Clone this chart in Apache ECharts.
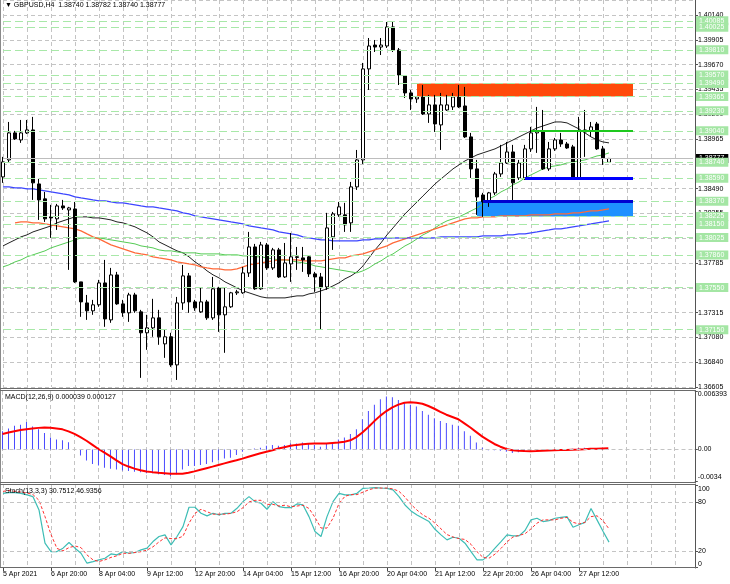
<!DOCTYPE html>
<html>
<head>
<meta charset="utf-8">
<script src="https://cdn.jsdelivr.net/npm/echarts@6.0.0/dist/echarts.min.js"></script>
<style>
html, body { margin: 0; padding: 0; background: #fff; }
#chart { width: 730px; height: 584px; }
</style>
</head>
<body>
<div id="chart"></div>
<script>
// GBPUSD H4, one value per bar (bar 0 = 5 Apr 2021 12:00)
var opens = [
  1.38602,1.38763,1.39020,1.38953,1.39020,1.39048,1.38535,1.38393,1.38222,1.38203,
  1.38326,1.38288,1.38297,1.37604,1.37404,1.37329,1.37386,1.37594,1.37243,1.37670,
  1.37395,1.37310,1.37480,1.37319,1.37120,1.37167,1.37262,1.37015,1.37082,1.36815,
  1.37404,1.37661,1.37414,1.37319,1.37414,1.37262,1.37547,1.37291,1.37367,1.37500,
  1.37500,1.37689,1.37936,1.37538,1.37955,1.37737,1.37908,1.37651,1.37775,1.37842,
  1.37832,1.37842,1.37680,1.37651,1.37556,1.38032,1.38241,1.38241,1.38165,1.38507,
  1.38763,1.39628,1.39855,1.39836,1.39846,1.40027,1.39808,1.39561,1.39400,1.39343,
  1.39362,1.39200,1.39286,1.39096,1.39238,1.39267,1.39362,1.39276,1.38982,1.38678,
  1.38430,1.38364,1.38450,1.38630,1.38734,1.38839,1.38592,1.38592,1.38868,1.39020,
  1.39039,1.38678,1.38868,1.38953,1.38915,1.38887,1.38592,1.39029,1.39039,1.39105,
  1.38868,1.38740
];
var closes = [
  1.38744,1.39020,1.38963,1.39020,1.39048,1.38545,1.38383,1.38203,1.38212,1.38326,
  1.38307,1.38307,1.37604,1.37414,1.37329,1.37386,1.37594,1.37252,1.37670,1.37395,
  1.37310,1.37480,1.37329,1.37120,1.37167,1.37262,1.37082,1.37082,1.36815,1.37404,
  1.37661,1.37414,1.37357,1.37414,1.37262,1.37538,1.37291,1.37367,1.37500,1.37509,
  1.37689,1.37936,1.37538,1.37955,1.37737,1.37908,1.37651,1.37784,1.37842,1.37837,
  1.37813,1.37680,1.37651,1.37556,1.38117,1.38250,1.38317,1.38146,1.38507,1.38763,
  1.39628,1.39846,1.39836,1.39855,1.40027,1.39808,1.39570,1.39400,1.39343,1.39362,
  1.39200,1.39286,1.39105,1.39286,1.39286,1.39362,1.39267,1.38982,1.38678,1.38411,
  1.38364,1.38450,1.38630,1.38734,1.38839,1.38545,1.38734,1.38868,1.39020,1.39039,
  1.38678,1.38868,1.38953,1.38915,1.38877,1.38592,1.39039,1.39048,1.39077,1.38868,
  1.38782,1.38777
];
var lows = [
  1.38545,1.38735,1.38953,1.38925,1.39010,1.38383,1.38193,1.38174,1.38022,1.38098,
  1.38288,1.37718,1.37594,1.37272,1.37243,1.37291,1.37367,1.37177,1.37215,1.37386,
  1.37272,1.37224,1.37310,1.36692,1.36958,1.37082,1.37006,1.36882,1.36796,1.36672,
  1.37338,1.37310,1.37329,1.37310,1.37243,1.37243,1.37129,1.36930,1.37357,1.37480,
  1.37490,1.37651,1.37528,1.37528,1.37718,1.37718,1.37642,1.37642,1.37604,1.37718,
  1.37699,1.37651,1.37509,1.37148,1.37528,1.37908,1.38222,1.38079,1.38079,1.38478,
  1.38725,1.39428,1.39789,1.39760,1.39827,1.39789,1.39475,1.39352,1.39238,1.39305,
  1.39190,1.39115,1.39029,1.38858,1.39229,1.39238,1.39257,1.38972,1.38592,1.38241,
  1.38222,1.38317,1.38430,1.38602,1.38725,1.38355,1.38573,1.38573,1.38839,1.38830,
  1.38668,1.38659,1.38849,1.38887,1.38868,1.38583,1.38592,1.38792,1.38982,1.38858,
  1.38716,1.38740
];
var highs = [
  1.38792,1.39124,1.39039,1.39143,1.39143,1.39172,1.38583,1.38459,1.38336,1.38345,
  1.38383,1.38317,1.38364,1.37604,1.37480,1.37433,1.37623,1.37813,1.37737,1.37699,
  1.37433,1.37500,1.37500,1.37338,1.37291,1.37443,1.37338,1.37148,1.37120,1.37461,
  1.37765,1.37689,1.37433,1.37547,1.37433,1.37651,1.37557,1.37547,1.37509,1.37528,
  1.37746,1.38079,1.37965,1.37984,1.37974,1.37927,1.37927,1.37974,1.38069,1.37936,
  1.37936,1.37851,1.37699,1.37689,1.38260,1.38269,1.38364,1.38355,1.38554,1.38858,
  1.39685,1.39922,1.39903,1.39922,1.40074,1.40074,1.39827,1.39570,1.39428,1.39371,
  1.39475,1.39381,1.39381,1.39400,1.39381,1.39400,1.39475,1.39457,1.39020,1.38763,
  1.38450,1.38459,1.38649,1.38906,1.38934,1.38906,1.38763,1.38906,1.39077,1.39267,
  1.39238,1.38934,1.38972,1.39020,1.38934,1.38906,1.39172,1.39238,1.39124,1.39124,
  1.38896,1.38782
];

// moving averages as drawn on the chart
var maBlack = [
  1.37946,1.37975,1.38003,1.38032,1.38051,1.38079,1.38098,1.38117,1.38136,1.38165,
  1.38184,1.38203,1.38222,1.38222,1.38222,1.38212,1.38212,1.38203,1.38193,1.38174,
  1.38165,1.38146,1.38127,1.38098,1.38070,1.38032,1.37984,1.37956,1.37927,1.37899,
  1.37880,1.37842,1.37794,1.37756,1.37709,1.37671,1.37642,1.37604,1.37576,1.37547,
  1.37519,1.37500,1.37481,1.37462,1.37452,1.37452,1.37452,1.37452,1.37462,1.37471,
  1.37471,1.37490,1.37500,1.37519,1.37538,1.37566,1.37595,1.37633,1.37661,1.37699,
  1.37756,1.37832,1.37908,1.37975,1.38051,1.38117,1.38184,1.38250,1.38307,1.38364,
  1.38421,1.38478,1.38535,1.38583,1.38630,1.38678,1.38716,1.38754,1.38782,1.38811,
  1.38830,1.38849,1.38868,1.38896,1.38925,1.38953,1.38982,1.39010,1.39039,1.39067,
  1.39086,1.39105,1.39124,1.39124,1.39115,1.39086,1.39058,1.39020,1.38982,1.38953,
  1.38934,1.38925
];
var maGreen = [
  1.37747,1.37766,1.37794,1.37813,1.37842,1.37861,1.37880,1.37899,1.37927,1.37946,
  1.37965,1.37984,1.38003,1.38022,1.38022,1.38022,1.38022,1.38013,1.38003,1.37994,
  1.37984,1.37975,1.37965,1.37946,1.37937,1.37927,1.37908,1.37899,1.37899,1.37889,
  1.37880,1.37880,1.37880,1.37870,1.37870,1.37870,1.37870,1.37861,1.37861,1.37861,
  1.37851,1.37851,1.37842,1.37842,1.37832,1.37823,1.37813,1.37813,1.37804,1.37794,
  1.37785,1.37775,1.37756,1.37747,1.37737,1.37728,1.37718,1.37709,1.37699,1.37690,
  1.37709,1.37737,1.37775,1.37804,1.37842,1.37870,1.37908,1.37946,1.37975,1.38013,
  1.38051,1.38079,1.38117,1.38155,1.38184,1.38203,1.38222,1.38250,1.38279,1.38307,
  1.38345,1.38393,1.38421,1.38459,1.38488,1.38526,1.38554,1.38592,1.38621,1.38649,
  1.38678,1.38697,1.38706,1.38716,1.38735,1.38744,1.38754,1.38763,1.38782,1.38801,
  1.38811,1.38830
];
var maOrange = [
  null,null,1.38165,1.38174,1.38174,1.38165,1.38165,1.38155,1.38146,1.38136,
  1.38127,1.38117,1.38108,1.38089,1.38060,1.38032,1.38013,1.37984,1.37956,1.37937,
  1.37918,1.37899,1.37880,1.37870,1.37861,1.37842,1.37832,1.37823,1.37813,1.37794,
  1.37785,1.37775,1.37766,1.37747,1.37737,1.37728,1.37728,1.37718,1.37718,1.37728,
  1.37747,1.37766,1.37775,1.37785,1.37794,1.37804,1.37813,1.37813,1.37813,1.37813,
  1.37804,1.37804,1.37804,1.37804,1.37813,1.37823,1.37832,1.37832,1.37851,1.37861,
  1.37870,1.37889,1.37908,1.37927,1.37946,1.37975,1.37994,1.38013,1.38032,1.38051,
  1.38070,1.38089,1.38108,1.38127,1.38146,1.38165,1.38184,1.38203,1.38212,1.38212,
  1.38222,1.38222,1.38222,1.38231,1.38231,1.38231,1.38231,1.38231,1.38241,1.38241,
  1.38241,1.38241,1.38250,1.38250,1.38250,1.38260,1.38260,1.38269,1.38279,1.38279,
  1.38288,1.38298
];
var maBlue = [
  1.38507,1.38507,1.38497,1.38497,1.38488,1.38488,1.38478,1.38469,1.38459,1.38450,
  1.38440,1.38431,1.38412,1.38402,1.38393,1.38383,1.38374,1.38374,1.38364,1.38355,
  1.38355,1.38345,1.38336,1.38326,1.38317,1.38317,1.38307,1.38298,1.38288,1.38279,
  1.38260,1.38250,1.38231,1.38222,1.38212,1.38203,1.38193,1.38184,1.38174,1.38165,
  1.38155,1.38136,1.38127,1.38117,1.38108,1.38098,1.38079,1.38070,1.38060,1.38051,
  1.38032,1.38022,1.38013,1.38003,1.38003,1.37994,1.37994,1.37994,1.37994,1.37994,
  1.38003,1.38003,1.38013,1.38013,1.38022,1.38022,1.38022,1.38022,1.38022,1.38022,
  1.38022,1.38022,1.38022,1.38032,1.38032,1.38032,1.38032,1.38032,1.38032,1.38032,
  1.38041,1.38041,1.38041,1.38041,1.38051,1.38051,1.38060,1.38060,1.38070,1.38079,
  1.38089,1.38098,1.38108,1.38108,1.38117,1.38127,1.38136,1.38146,1.38155,1.38165,
  1.38174,1.38184
];

// MACD(12,26,9): histogram and signal
var macdMain = [
  0.0020,0.0023,0.0026,0.0027,0.0030,0.0025,0.0022,0.0018,0.0013,0.0011,
  0.0010,0.0008,0.0000,-0.00065,-0.0012,-0.0016,-0.00175,-0.0020,-0.0021,-0.0022,
  -0.0023,-0.00235,-0.00245,-0.0025,-0.0026,-0.0026,-0.0027,-0.0028,-0.0029,-0.0027,
  -0.0022,-0.0018,-0.0018,-0.0017,-0.0016,-0.0014,-0.0012,-0.0010,-0.0009,-0.0006,
  -0.00025,0.0000,0.0001,0.0002,0.0004,0.0005,0.0004,0.0005,0.00065,0.00065,
  0.00075,0.0006,0.0005,0.0003,0.0006,0.0008,0.0011,0.0013,0.0017,0.0022,
  0.0033,0.0042,0.0049,0.0055,0.0058,0.0057,0.0054,0.0051,0.0049,0.0047,
  0.0042,0.0038,0.0034,0.0031,0.0029,0.0027,0.0026,0.0020,0.0015,0.00075,
  0.0002,-0.0001,-0.0001,-0.00015,-0.00025,-0.0004,-0.0003,-0.0002,-0.0001,-0.00005,
  0.00005,0.0000,-0.00003,0.00003,0.00005,0.00008,0.00015,0.00018,0.00015,0.00012,
  0.00008,0.000039
];
var macdSignal = [
  0.00170,0.00185,0.00200,0.00212,0.00222,0.0023,0.00236,0.0024,0.00238,0.0023,
  0.0022,0.00198,0.0017,0.00135,0.00095,0.0005,0.00005,-0.00035,-0.00075,-0.0012,
  -0.0016,-0.00187,-0.0021,-0.00227,-0.0024,-0.00248,-0.00255,-0.0026,-0.00265,-0.00267,
  -0.00265,-0.00255,-0.0024,-0.00222,-0.00205,-0.00188,-0.0017,-0.00152,-0.00135,-0.00118,
  -0.001,-0.0008,-0.0006,-0.00042,-0.00025,-0.00008,0.0001,0.00025,0.0004,0.0005,
  0.00058,0.00062,0.00065,0.00065,0.00065,0.0007,0.00075,0.00085,0.001,0.00135,
  0.00185,0.00245,0.0031,0.0037,0.0042,0.0046,0.0049,0.0051,0.00515,0.0051,
  0.005,0.00475,0.00445,0.00412,0.0038,0.00355,0.0033,0.00285,0.0024,0.0019,
  0.0014,0.001,0.0006,0.0003,0.00005,-0.00008,-0.00015,-0.00018,-0.0002,-0.00018,
  -0.00015,-0.00012,-0.0001,-0.00007,-0.00005,-0.00002,0.0,0.00003,0.00007,0.00009,
  0.00011,0.000127
];

// Stochastic(13,3,3)
var stochMain = [
  90.6,91.4,91.4,90.6,88.6,86.5,70.2,29.4,19.2,19.2,
  23.3,30.2,23.3,17.1,4.9,6.9,9.0,11.0,16.3,15.1,
  19.2,17.1,18.0,21.2,23.3,31.4,37.6,39.6,27.3,37.6,
  49.8,73.5,73.5,66.1,62.9,66.1,64.1,66.1,66.1,72.2,
  80.4,86.5,80.4,78.4,71.0,80.4,74.3,73.1,73.1,77.6,
  76.3,62.0,43.7,37.6,62.0,80.4,90.6,88.6,88.6,90.6,
  96.7,97.1,97.6,97.1,96.7,94.7,86.5,76.3,69.0,64.1,
  60.0,55.9,46.5,39.6,33.5,36.7,35.5,29.4,19.2,9.0,
  9.0,15.1,23.3,31.4,39.6,38.4,38.4,44.9,58.0,60.0,
  55.9,57.1,60.0,61.0,62.0,49.0,52.0,55.0,72.0,58.0,
  44.0,30.7512
];
var stochSignal = [
  93,94,93,92,91,89,82,62,40,23,
  20,24,26,24,15,9,7,9,12,14,
  17,17,18,19,21,25,31,36,35,35,
  38,54,66,71,68,65,65,65,66,68,
  73,80,82,82,77,77,75,76,74,75,
  76,72,61,48,48,60,78,87,89,89,
  92,95,97,97,97,96,93,86,77,70,
  64,60,54,47,40,37,35,34,28,19,
  12,11,16,23,31,37,39,41,47,54,
  58,58,58,60,61,55,53,55,62,63,
  57,46.9356
];

// axis ticks
var priceTicks = ['1.36605','1.36840','1.37080','1.37315','1.37550','1.37785','1.38020','1.38255',
  '1.38490','1.38730','1.38965','1.39200','1.39435','1.39670','1.39905','1.40140'];
var priceMin = 1.36605, priceMax = 1.40283, priceStep = 0.0023567;
var timeLabels = ['5 Apr 2021','6 Apr 20:00','8 Apr 04:00','9 Apr 12:00','12 Apr 20:00','14 Apr 04:00',
  '15 Apr 12:00','16 Apr 20:00','20 Apr 04:00','21 Apr 12:00','22 Apr 20:00','26 Apr 04:00','27 Apr 12:00'];
var barsPerLabel = 8;
var slotCount = 116;
var macdTickValues = [-0.00345, 0, 0.006393];
var macdTickLabels = ['-0.0034', '0.00', '0.006393'];
var stochTicks = [0, 20, 80, 100];

// drawn objects (bar index, price)
var levelPrices = [1.40085,1.40025,1.39810,1.39570,1.39490,1.39365,1.39230,1.39040,1.38740,
  1.38590,1.38370,1.38225,1.38150,1.38025,1.37860,1.37550,1.37150];
var bidPrice = 1.38777;
var supplyZone = { from: 69, to: 105, top: 1.39490, bottom: 1.39365 };
var demandZone = { from: 79, to: 105, top: 1.38370, bottom: 1.38225 };
var greenSeg = { from: 88, to: 105, price: 1.39040 };
var blueSeg = { from: 87, to: 105, price: 1.38590 };
var demandTop = { from: 80, to: 105, price: 1.38370 };

var FONT = '"Liberation Sans", Arial, sans-serif';
var gridDash = { color: '#c4c4c4', type: [4, 3], width: 1 };

var cats = [];
for (var i = 0; i < slotCount; i++) cats.push(String(i));

var candleData = opens.map(function (o, i) {
  return [o, closes[i], lows[i], highs[i]];
});

function xAx(gi, showLabels) {
  return {
    type: 'category', gridIndex: gi, data: cats, boundaryGap: false,
    axisLine: { show: false },
    axisTick: {
      show: showLabels, length: 4, lineStyle: { color: '#444' },
      interval: function (i) { return i % barsPerLabel === 0 && i / barsPerLabel < timeLabels.length; }
    },
    axisLabel: {
      show: showLabels, fontSize: 7, fontFamily: FONT, color: '#000', align: 'left', margin: 3,
      interval: function (i) { return i % barsPerLabel === 0 && i / barsPerLabel < timeLabels.length; },
      formatter: function (v, i) { return timeLabels[i / barsPerLabel] || ''; }
    },
    splitLine: { show: true, lineStyle: gridDash, interval: function (i) { return i % 4 === 0; } }
  };
}

// horizontal price levels: bid line first so the green tags sit on top of it
var levelLines = [{
  yAxis: bidPrice,
  lineStyle: { color: '#bdbdbd', width: 1, type: 'solid' },
  label: { show: true, position: 'end', distance: 3, formatter: bidPrice.toFixed(5),
    color: '#fff', backgroundColor: '#000', padding: [1, 4, 1, 3], fontSize: 7, fontFamily: FONT }
}].concat(levelPrices.map(function (p) {
  return {
    yAxis: p,
    lineStyle: { color: '#a8e8a8', width: 1, type: [8, 4] },
    label: { show: true, position: 'end', distance: 3, formatter: p.toFixed(5),
      color: '#ffffff', backgroundColor: '#a4e6a4', padding: [1, 4, 1, 3], fontSize: 7, fontFamily: FONT }
  };
}));

var chart = echarts.init(document.getElementById('chart'));

var option = {
  animation: false,
  backgroundColor: '#ffffff',
  grid: [
    { left: 3, width: 690, top: 0, height: 387 },
    { left: 2.5, width: 690, top: 391, height: 90 },
    { left: 3, width: 690, top: 484, height: 84 }
  ],
  xAxis: [xAx(0, false), xAx(1, false), xAx(2, true)],
  yAxis: [
    {
      type: 'value', gridIndex: 0, position: 'right', offset: 2,
      min: priceMin, max: priceMax, interval: priceStep,
      axisLine: { show: true, lineStyle: { color: '#555' } },
      axisTick: { show: true, length: 3, lineStyle: { color: '#555' } },
      axisLabel: {
        fontSize: 7, fontFamily: FONT, color: '#000', margin: 3, showMaxLabel: false,
        formatter: function (v) {
          var k = Math.round((v - priceMin) / priceStep);
          return Math.abs(priceMin + k * priceStep - v) < 1e-6 ? (priceTicks[k] || '') : '';
        }
      },
      splitLine: { show: true, lineStyle: gridDash }
    },
    {
      type: 'value', gridIndex: 1, position: 'right', offset: 2.5,
      min: macdTickValues[0], max: macdTickValues[2],
      axisLine: { show: true, lineStyle: { color: '#555' } },
      axisTick: { show: true, length: 3, customValues: macdTickValues, lineStyle: { color: '#555' } },
      axisLabel: {
        fontSize: 7, fontFamily: FONT, color: '#000', margin: 3,
        customValues: macdTickValues,
        verticalAlignMaxLabel: 'top', verticalAlignMinLabel: 'bottom',
        formatter: function (v) {
          var k = macdTickValues.indexOf(v);
          return k >= 0 ? macdTickLabels[k] : '';
        }
      },
      splitLine: { show: false }
    },
    {
      type: 'value', gridIndex: 2, position: 'right', offset: 2,
      min: -1, max: 102,
      axisLine: { show: true, lineStyle: { color: '#555' } },
      axisTick: { show: true, length: 3, customValues: stochTicks, lineStyle: { color: '#555' } },
      axisLabel: {
        fontSize: 7, fontFamily: FONT, color: '#000', margin: 3,
        customValues: stochTicks,
        verticalAlignMaxLabel: 'top', verticalAlignMinLabel: 'bottom'
      },
      splitLine: { show: false }
    }
  ],
  series: [
    {
      name: 'levels', type: 'line', xAxisIndex: 0, yAxisIndex: 0, z: 1,
      data: cats.map(function () { return null; }), symbol: 'none',
      markLine: { silent: true, symbol: ['none', 'none'], precision: 5, data: levelLines }
    },
    {
      name: 'zones', type: 'line', xAxisIndex: 0, yAxisIndex: 0, z: 1,
      data: cats.map(function () { return null; }), symbol: 'none',
      markArea: {
        silent: true,
        data: [
          [{ coord: [supplyZone.from, supplyZone.top], itemStyle: { color: '#ff4a0a', opacity: 1 } },
           { coord: [supplyZone.to, supplyZone.bottom] }],
          [{ coord: [demandZone.from, demandZone.top], itemStyle: { color: '#1e90ff', opacity: 1 } },
           { coord: [demandZone.to, demandZone.bottom] }]
        ]
      },
      markLine: {
        silent: true, symbol: ['none', 'none'], label: { show: false },
        data: [
          [{ coord: [greenSeg.from, greenSeg.price], lineStyle: { color: '#1ec81e', width: 2, type: 'solid' } },
           { coord: [greenSeg.to, greenSeg.price] }],
          [{ coord: [blueSeg.from, blueSeg.price], lineStyle: { color: '#0000ff', width: 3, type: 'solid' } },
           { coord: [blueSeg.to, blueSeg.price] }],
          [{ coord: [demandTop.from, demandTop.price], lineStyle: { color: '#0000d0', width: 3, type: 'solid' } },
           { coord: [demandTop.to, demandTop.price] }]
        ]
      }
    },
    { name: 'MA black', type: 'line', xAxisIndex: 0, yAxisIndex: 0, data: maBlack, symbol: 'none', z: 2,
      lineStyle: { color: '#222', width: 1 } },
    { name: 'MA green', type: 'line', xAxisIndex: 0, yAxisIndex: 0, data: maGreen, symbol: 'none', z: 2,
      lineStyle: { color: '#55cc55', width: 1 } },
    { name: 'MA orange', type: 'line', xAxisIndex: 0, yAxisIndex: 0, data: maOrange, symbol: 'none', z: 2,
      lineStyle: { color: '#ff6a3a', width: 1.2 } },
    { name: 'MA blue', type: 'line', xAxisIndex: 0, yAxisIndex: 0, data: maBlue, symbol: 'none', z: 2,
      lineStyle: { color: '#3c46ff', width: 1.2 } },
    {
      name: 'GBPUSD', type: 'candlestick', xAxisIndex: 0, yAxisIndex: 0, z: 3,
      data: candleData, barWidth: 4, clip: false,
      itemStyle: { color: '#ffffff', color0: '#000000', borderColor: '#000000', borderColor0: '#000000',
        borderColorDoji: '#000000', borderWidth: 1 }
    },
    {
      name: 'MACD', type: 'bar', xAxisIndex: 1, yAxisIndex: 1, data: macdMain, barWidth: 1,
      itemStyle: { color: '#4a4aff' },
      markLine: { silent: true, symbol: ['none', 'none'], label: { show: false },
        data: [{ yAxis: 0, lineStyle: gridDash }] }
    },
    { name: 'Signal', type: 'line', xAxisIndex: 1, yAxisIndex: 1, data: macdSignal, symbol: 'none', z: 3,
      lineStyle: { color: '#ff0000', width: 2 } },
    {
      name: 'Stoch', type: 'line', xAxisIndex: 2, yAxisIndex: 2, data: stochMain, symbol: 'none',
      lineStyle: { color: '#3dbdb5', width: 1.2 },
      markLine: { silent: true, symbol: ['none', 'none'], label: { show: false },
        data: [{ yAxis: 20, lineStyle: gridDash }, { yAxis: 80, lineStyle: gridDash }] }
    },
    { name: 'Stoch signal', type: 'line', xAxisIndex: 2, yAxisIndex: 2, data: stochSignal, symbol: 'none',
      lineStyle: { color: '#ff3030', width: 1, type: [3, 2] } }
  ],
  graphic: [
    { type: 'line', z: 50, shape: { x1: 0.5, y1: 0, x2: 0.5, y2: 568 }, style: { stroke: '#8a8a8a', lineWidth: 1 } },
    { type: 'line', z: 50, shape: { x1: 0, y1: 388.5, x2: 696, y2: 388.5 }, style: { stroke: '#6a6a6a', lineWidth: 1 } },
    { type: 'line', z: 50, shape: { x1: 0, y1: 390.5, x2: 696, y2: 390.5 }, style: { stroke: '#6a6a6a', lineWidth: 1 } },
    { type: 'line', z: 50, shape: { x1: 0, y1: 482.5, x2: 696, y2: 482.5 }, style: { stroke: '#6a6a6a', lineWidth: 1 } },
    { type: 'line', z: 50, shape: { x1: 0, y1: 484.5, x2: 696, y2: 484.5 }, style: { stroke: '#6a6a6a', lineWidth: 1 } },
    { type: 'line', z: 50, shape: { x1: 0, y1: 567.5, x2: 696, y2: 567.5 }, style: { stroke: '#6a6a6a', lineWidth: 1 } },
    { type: 'text', z: 50, left: 5, top: 2,
      style: { text: '\u25BC GBPUSD,H4  1.38740 1.38782 1.38740 1.38777', font: '7px ' + FONT, fill: '#000' } },
    { type: 'text', z: 50, left: 5, top: 394,
      style: { text: 'MACD(12,26,9) 0.000039 0.000127', font: '7px ' + FONT, fill: '#000' } },
    { type: 'text', z: 50, left: 5, top: 488,
      style: { text: 'Stoch(13,3,3) 30.7512 46.9356', font: '7px ' + FONT, fill: '#000' } }
  ]
};

chart.setOption(option);
window.addEventListener('resize', function () { chart.resize(); });
</script>
</body>
</html>
